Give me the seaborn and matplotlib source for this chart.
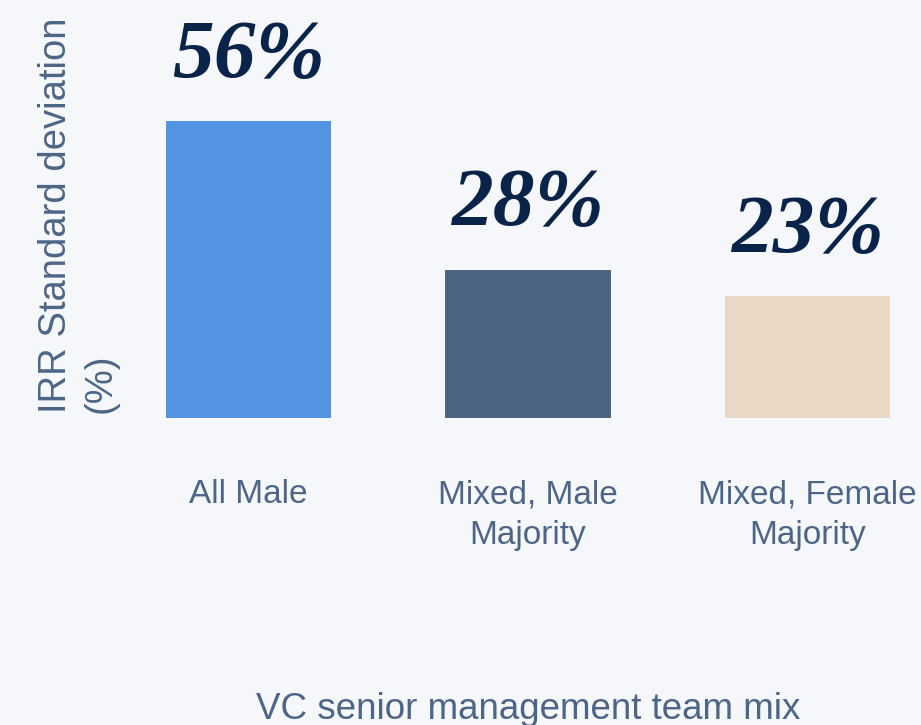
import pandas as pd
import matplotlib
matplotlib.use("Agg")
import matplotlib.pyplot as plt
import seaborn as sns

# Data
teams = ["All Male", "Mixed, Male\nMajority", "Mixed, Female\nMajority"]
irr_std = [56, 28, 23]
labels = ["56%", "28%", "23%"]
colors = ["#5294e2", "#4c6584", "#ead8c6"]

df = pd.DataFrame({"team": teams, "irr_std": irr_std})

bg = "#f6f7fb"
text_col = "#4d6687"

sns.set_theme(style="white", rc={"axes.facecolor": bg, "figure.facecolor": bg})
plt.rcParams["font.family"] = ["Liberation Sans", "DejaVu Sans"]

fig = plt.figure(figsize=(9.21, 7.25), dpi=100)
ax = fig.add_axes([166 / 921, 1 - 418 / 725, (890 - 166) / 921, 418 / 725])

sns.barplot(data=df, x="team", y="irr_std", hue="team", palette=colors,
            legend=False, width=0.592, saturation=1, linewidth=0, ax=ax)

ax.set_xlim(-0.296, 2.296)
ax.set_ylim(0, 78.9)

# Value labels above bars
for i, (v, lab) in enumerate(zip(irr_std, labels)):
    ax.annotate(lab, (i, v), xytext=(0, 32), textcoords="offset points",
                ha="center", va="baseline", fontsize=60, color="#0a2449",
                family="Liberation Serif", fontweight="bold", fontstyle="italic",
                annotation_clip=False)

sns.despine(ax=ax, left=True, bottom=True)
ax.set_yticks([])
ax.tick_params(axis="x", length=0, pad=44, labelsize=24, labelcolor=text_col)
for t in ax.get_xticklabels():
    t.set_linespacing(1.4)

ax.set_ylabel("IRR Standard deviation\n(%)", fontsize=27.5, color=text_col,
              multialignment="left", linespacing=1.3)
ax.yaxis.set_label_coords(-0.066, 0.486)
ax.set_xlabel("VC senior management team mix", fontsize=26.5, color=text_col)
ax.xaxis.set_label_coords(0.5, -0.655)

fig.savefig("out.png", dpi=100, facecolor=bg)
